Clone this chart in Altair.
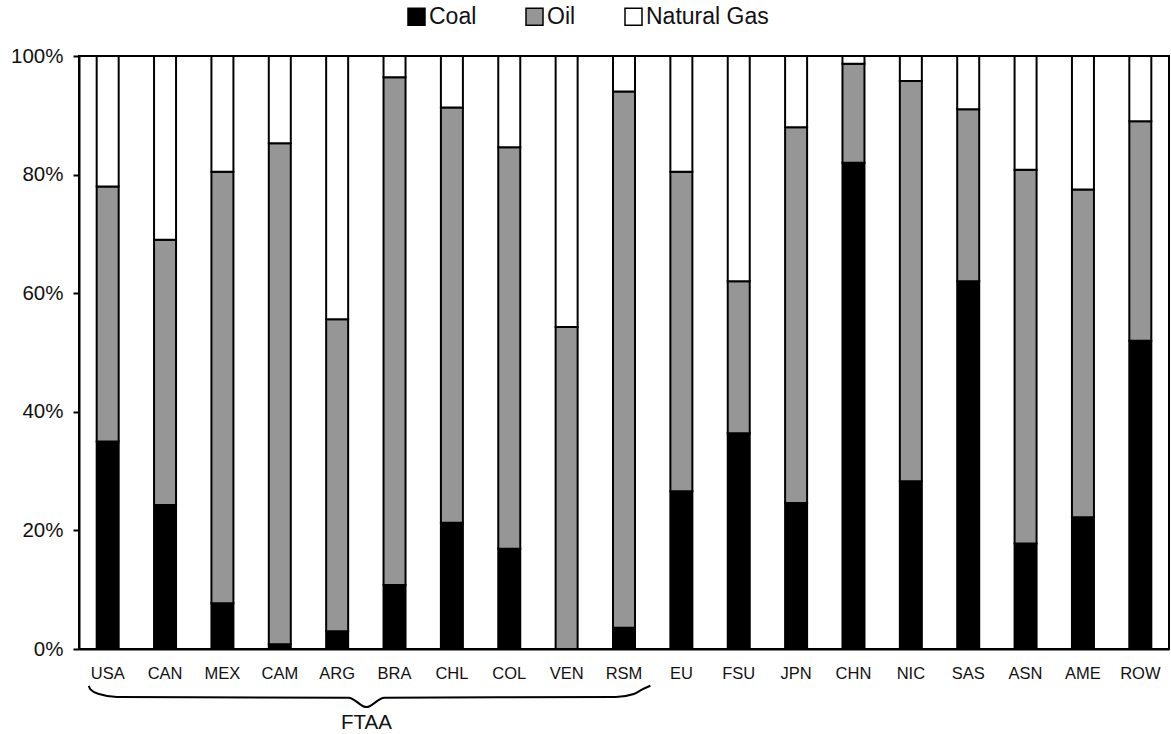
import altair as alt
import pandas as pd

regions = ["USA", "CAN", "MEX", "CAM", "ARG", "BRA", "CHL", "COL", "VEN", "RSM",
           "EU", "FSU", "JPN", "CHN", "NIC", "SAS", "ASN", "AME", "ROW"]
coal = [35.0, 24.3, 7.7, 0.8, 3.0, 10.8, 21.3, 16.9, 0.0, 3.6,
        26.6, 36.4, 24.6, 82.0, 28.3, 62.0, 17.8, 22.2, 52.0]
oil = [43.0, 44.7, 72.8, 84.5, 52.6, 85.6, 70.0, 67.7, 54.3, 90.4,
       53.9, 25.6, 63.4, 16.7, 67.5, 29.0, 63.0, 55.3, 37.0]
gas = [22.0, 31.0, 19.5, 14.7, 44.4, 3.6, 8.7, 15.4, 45.7, 6.0,
       19.5, 38.0, 12.0, 1.3, 4.2, 9.0, 19.2, 22.5, 11.0]
fuels = ["Coal", "Oil", "Natural Gas"]
fuel_colors = ["#000000", "#969696", "#ffffff"]

# brace annotation under the FTAA group (x in category units, y in share units)
brace_x = [0.17, 0.20, 0.35, 0.66, 4.70, 5.01, 5.32, 9.36, 9.67, 9.82, 9.96]
brace_y = [-0.062, -0.068, -0.076, -0.081, -0.082, -0.098, -0.082, -0.081, -0.076, -0.068, -0.062]
group_label = ["FTAA"]
group_x = [5.01]
group_y = [-0.125]

rows = []
for i, r in enumerate(regions):
    for k, (f, vals) in enumerate(zip(fuels, [coal, oil, gas])):
        rows.append({"region": r, "fuel": f, "share": vals[i], "order": k})
df = pd.DataFrame(rows)

brace_df = pd.DataFrame({"bx": brace_x, "by": brace_y, "i": list(range(len(brace_x)))})
label_df = pd.DataFrame({"t": group_label, "tx": group_x, "ty": group_y})

W, H = 1090, 593
FONT = "Liberation Sans"

bars = alt.Chart(df).mark_bar(size=22, stroke="black", strokeWidth=2).encode(
    x=alt.X("region:N", sort=regions, title=None,
            scale=alt.Scale(paddingInner=0, paddingOuter=0),
            axis=alt.Axis(labelAngle=0, ticks=False, labelFontSize=16.5, labelPadding=16,
                          labelColor="#111", labelFont=FONT, domainColor="black",
                          domainWidth=2)),
    y=alt.Y("share:Q", stack="normalize", title=None,
            scale=alt.Scale(domain=[0, 1], nice=False),
            axis=alt.Axis(format="%", values=[0, 0.2, 0.4, 0.6, 0.8, 1.0], grid=False,
                          tickSize=6, tickColor="black", tickWidth=2, labelFontSize=20.5,
                          labelPadding=10, labelColor="#111", labelFont=FONT,
                          domainColor="black", domainWidth=2)),
    color=alt.Color("fuel:N", sort=fuels,
                    scale=alt.Scale(domain=fuels, range=fuel_colors),
                    legend=alt.Legend(title=None, orient="none", direction="horizontal",
                                      legendX=326, legendY=-51, symbolType="square",
                                      symbolSize=289, symbolStrokeColor="black",
                                      symbolStrokeWidth=1.5, symbolOpacity=1,
                                      labelFontSize=23, labelFont=FONT, labelColor="#111",
                                      labelOffset=1, columnPadding=46)),
    order=alt.Order("order:Q", sort="ascending"),
)

brace = alt.Chart(brace_df).mark_line(color="black", strokeWidth=2, clip=False,
                                      interpolate="monotone").encode(
    x=alt.X("bx:Q", scale=alt.Scale(domain=[0, 19], nice=False, zero=False), axis=None),
    y=alt.Y("by:Q", scale=alt.Scale(domain=[0, 1], nice=False), axis=None),
    order="i:Q",
)

label = alt.Chart(label_df).mark_text(fontSize=20.5, font=FONT, color="#111",
                                      baseline="middle", align="center", clip=False).encode(
    x=alt.X("tx:Q", scale=alt.Scale(domain=[0, 19], nice=False, zero=False), axis=None),
    y=alt.Y("ty:Q", scale=alt.Scale(domain=[0, 1], nice=False), axis=None),
    text="t:N",
)

chart = alt.layer(bars, brace, label).resolve_scale(
    x="independent", y="independent"
).properties(
    width=W, height=H,
    autosize=alt.AutoSizeParams(type="none"),
    padding={"left": 79, "top": 56, "right": 2, "bottom": 85},
    background="white",
).configure_view(stroke="black", strokeWidth=2).configure_axis(labelFont=FONT)

chart.save("out.html", embed_options={"renderer": "svg", "actions": False})
